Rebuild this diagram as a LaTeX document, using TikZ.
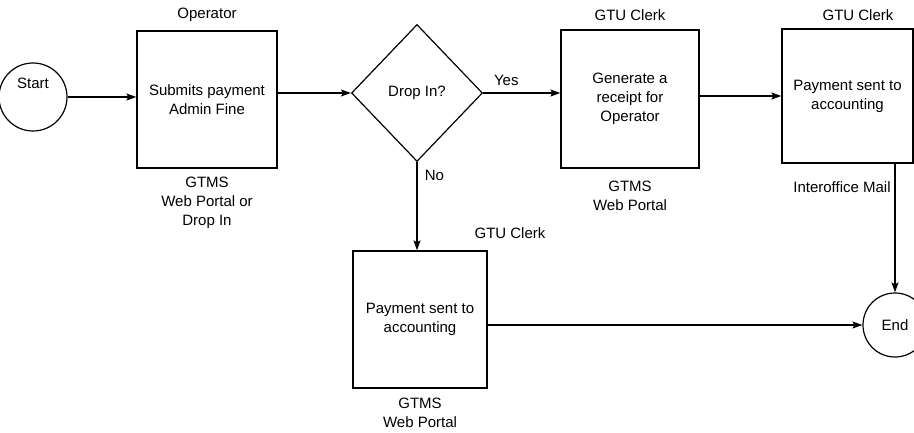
\documentclass[tikz,border=0pt]{standalone}
\usepackage{fontspec}
\setmainfont{Liberation Sans}
\usetikzlibrary{arrows.meta}
\usetikzlibrary{shapes.geometric}

\begin{document}
\begin{tikzpicture}[x=1,y=-1,
  font=\fontsize{15}{19}\selectfont,
  proc/.style={draw, line width=1.3pt, align=center, inner sep=0pt},
  term/.style={draw, circle, line width=1.2pt, inner sep=0pt},
  decide/.style={draw, diamond, line width=1.2pt, inner sep=0pt, minimum width=131pt, minimum height=137pt},
  lbl/.style={align=center, inner sep=0pt},
  flow/.style={line width=1.1pt, -{Stealth[length=10pt,width=7pt,inset=2pt]}}]
\useasboundingbox (0,0) rectangle (914,433);

\node[term, minimum size=68pt, label={[yshift=14pt]center:Start}] (start) at (33,97) {}; % start
\node[proc, minimum width=140pt, minimum height=137pt] (submit) at (207,99.5) {Submits payment\\Admin Fine};
\node[decide] (drop) at (417,93) {Drop In?};
\node[proc, minimum width=138pt, minimum height=138pt] (receipt) at (630,99) {Generate a\\receipt for\\Operator};
\node[proc, minimum width=131pt, minimum height=134pt] (pay2) at (847.5,96) {Payment sent to\\accounting};
\node[proc, minimum width=134pt, minimum height=137pt] (pay1) at (420,319.5) {Payment sent to\\accounting};
\node[term, minimum size=64pt] (end) at (895,325) {End}; % end

\node[lbl] (who1) at (207,15) {Operator};
\node[lbl] (who2) at (630,15) {GTU Clerk};
\node[lbl] (who3) at (858,15) {GTU Clerk};
\node[lbl] (who4) at (510,233) {GTU Clerk};

\node[lbl] (sys1) at (207,203) {GTMS\\Web Portal or\\Drop In};
\node[lbl] (sys2) at (630,196) {GTMS\\Web Portal};
\node[lbl] (sys3) at (420,413) {GTMS\\Web Portal};
\node[lbl] (mail) at (842,187) {Interoffice Mail};

\draw[flow] (start.east) -- (start.east -| submit.west);
\draw[flow] (submit.east |- drop.west) -- (drop.west);
\draw[flow] (drop.east) -- node[pos=.3, above=3pt] (yes) {Yes} (drop.east -| receipt.west);
\draw[flow] (drop.south) -- node[pos=.15, right=4pt] (no) {No} (drop.south |- pay1.north);
\draw[flow] (receipt.east |- pay2.west) -- (pay2.west);
\draw[flow] (pay2.south -| end.north) -- (end.north); % mail
\draw[flow] (pay1.east |- end.west) -- (end.west);
\end{tikzpicture}
\end{document}
